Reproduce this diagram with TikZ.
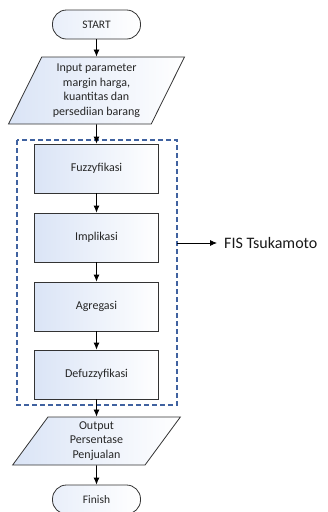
\documentclass[tikz,border=0pt]{standalone}
\usepackage{fontspec}
\setmainfont{Carlito}
\usetikzlibrary{arrows.meta, shapes.geometric, calc}

\definecolor{boxblue}{RGB}{218,228,246}
\definecolor{dashblue}{RGB}{64,98,160}

\tikzset{
    proc/.style={draw=black!80, line width=0.8pt, left color=boxblue, right color=white,
        minimum width=124pt, minimum height=49pt, inner sep=2pt,
        font=\fontsize{12}{14.6}\selectfont, text=black!85},
    io/.style={trapezium, trapezium left angle=64, trapezium right angle=116,
        trapezium stretches=true, draw=black!80, line width=0.8pt,
        left color=boxblue, right color=white, inner sep=1pt, align=center,
        font=\fontsize{12}{14.6}\selectfont, text=black!85},
    term/.style={draw=black!80, line width=0.8pt, rounded corners=14pt,
        left color=boxblue!60, right color=white, minimum width=88pt, minimum height=29pt,
        font=\fontsize{11.5}{14}\selectfont, text=black!85},
    flow/.style={-{Latex[length=7pt,width=6pt]}, line width=0.8pt, black},
    fisbox/.style={draw=dashblue, line width=1.3pt, dash pattern=on 5pt off 3pt}
}

\begin{document}
\begin{tikzpicture}[x=1pt, y=-1pt]
    \useasboundingbox (0,0) rectangle (328,512);

    % main column
    \node[term] (S) at (96.5,24.5) {START};
    \node[io, minimum width=176pt, minimum height=67pt] (In) at (96.5,90.5)
        {Input parameter\\ margin harga,\\ kuantitas dan\\ persediian barang};

    \node[proc] (F) at (96.5,168.5) {Fuzzyfikasi};
    \node[proc] (I) at (96.5,237.5) {Implikasi};
    \node[proc] (A) at (96.5,306.5) {Agregasi};
    \node[proc] (D) at (96.5,374.5) {Defuzzyfikasi};

    \node[io, minimum width=168pt, minimum height=48pt] (O) at (96.5,441)
        {Output\\ Persentase\\ Penjualan};
    \node[term] (E) at (96.5,499.5) {Finish};

    % dashed frame round the FIS steps
    \coordinate (P) at (17,140);
    \coordinate (Q) at (177,405);
    \draw[fisbox] (P) rectangle (Q);

    \draw[flow] (S) -- (In);
    \draw[flow] (In) -- (F);
    \draw[flow] (F) -- (I);
    \draw[flow] (I) -- (A);
    \draw[flow] (A) -- (D);
    \draw[flow] (D) -- (O);
    \draw[flow] (O) -- (E);

    % label on the right
    \coordinate (K) at (177,243);
    \node[anchor=west, inner xsep=7pt, inner ysep=0pt, font=\fontsize{16}{19}\selectfont, text=black!90] (T) at (217,243) {FIS Tsukamoto};
    \draw[flow] (K) -- (T.west);
\end{tikzpicture}
\end{document}
